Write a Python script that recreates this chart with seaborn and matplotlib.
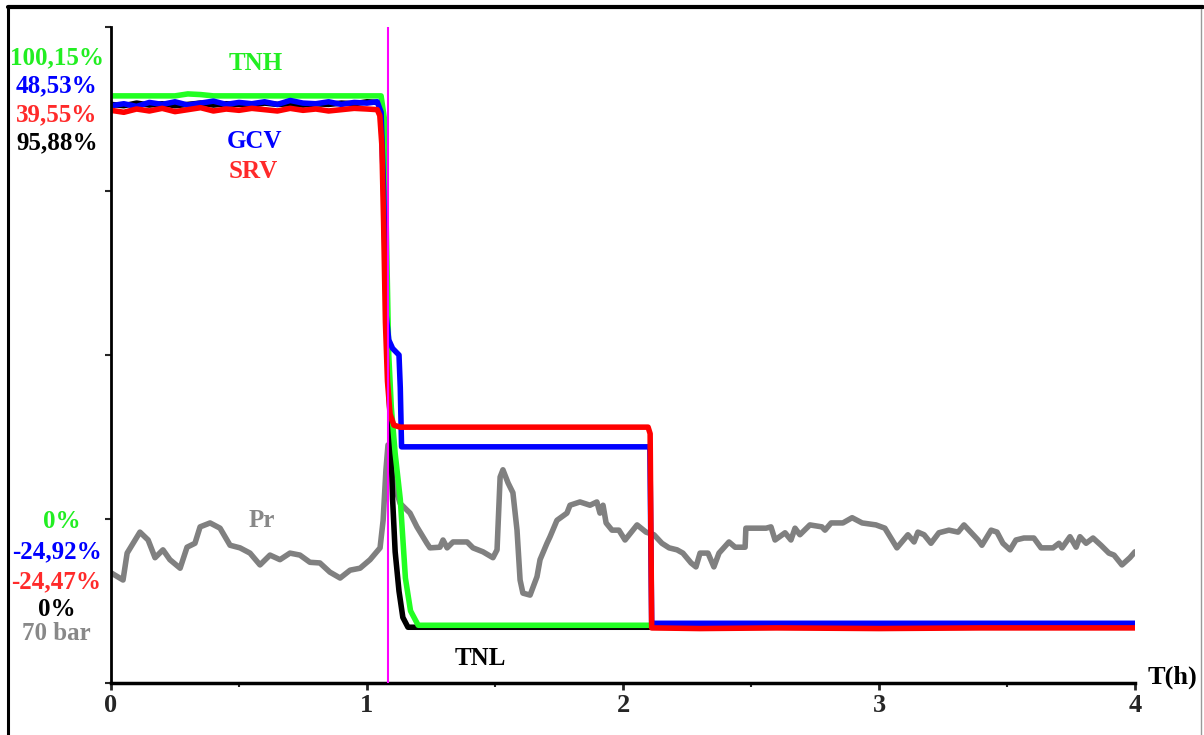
import numpy as np
import pandas as pd
import matplotlib
matplotlib.use("Agg")
import matplotlib.pyplot as plt
import seaborn as sns
from matplotlib.lines import Line2D
from matplotlib.ticker import MultipleLocator

# time in hours, signals in % of recorder scale (0 = bottom, 100 = top)
t_top = [0.00, 0.05, 0.10, 0.15, 0.20, 0.25, 0.30, 0.35, 0.40, 0.45, 0.50,
         0.55, 0.60, 0.65, 0.70, 0.75, 0.80, 0.85, 0.90, 0.95, 1.00]

tnh_t = [0.0, 0.25, 0.30, 0.35, 0.40, 0.8, 1.0, 1.055, 1.068, 1.075, 1.085,
         1.095, 1.11, 1.13, 1.15, 1.17, 1.20, 2.10, 4.0]
tnh_v = [89.5, 89.5, 89.8, 89.7, 89.5, 89.5, 89.5, 89.5, 86.0, 70.0, 50.0,
         42.0, 35.0, 28.0, 16.0, 11.0, 8.8, 8.8, 8.8]

gcv_t = t_top + [1.04, 1.055, 1.065, 1.075, 1.085, 1.10, 1.125, 1.13, 1.135,
                 2.105, 2.112, 4.0]
gcv_v = [88.0, 88.3, 87.9, 88.5, 88.2, 88.6, 88.1, 88.4, 88.7, 88.2, 88.5,
         88.3, 88.6, 88.2, 88.8, 88.4, 88.3, 88.6, 88.2, 88.5, 88.4] + \
        [88.6, 87.0, 75.0, 56.0, 52.3, 51.0, 50.0, 45.0, 36.0, 36.0, 9.1, 9.1]

srv_t = t_top + [1.04, 1.05, 1.058, 1.065, 1.072, 1.08, 1.09, 1.105, 1.13,
                 2.098, 2.106, 2.112, 2.3, 2.6, 3.0, 3.4, 4.0]
srv_v = [87.3, 87.0, 87.5, 87.2, 87.6, 87.1, 87.4, 87.7, 87.2, 87.5, 87.3,
         87.6, 87.4, 87.2, 87.6, 87.3, 87.5, 87.2, 87.4, 87.6, 87.5] + \
        [87.4, 86.5, 82.0, 70.0, 55.0, 46.0, 41.0, 39.3, 39.0, 39.0, 38.0,
         8.4, 8.3, 8.4, 8.3, 8.4, 8.4]

tnl_t = t_top + [1.04, 1.055, 1.065, 1.075, 1.085, 1.09, 1.10, 1.11, 1.125,
                 1.14, 1.16, 4.0]
tnl_v = [88.2, 88.0, 88.4, 88.1, 88.3, 88.0, 88.2, 88.4, 88.1, 88.3, 88.2,
         88.1, 88.4, 88.2, 88.3, 88.1, 88.3, 88.2, 88.4, 88.3, 88.6] + \
        [88.5, 88.0, 80.0, 60.0, 45.0, 41.0, 28.0, 20.0, 14.0, 10.0, 8.5, 8.5]

pr_t = [0.0, 0.047, 0.063, 0.113, 0.145, 0.172, 0.203, 0.230, 0.270, 0.297,
        0.328, 0.348, 0.387, 0.426, 0.465, 0.504, 0.543, 0.582, 0.621, 0.660,
        0.699, 0.738, 0.777, 0.816, 0.855, 0.895, 0.934, 0.973, 1.012, 1.051,
        1.063, 1.074, 1.082, 1.102, 1.129, 1.168, 1.195, 1.234, 1.246, 1.285,
        1.297, 1.313, 1.336, 1.391, 1.414, 1.453, 1.492, 1.508, 1.520, 1.531,
        1.551, 1.570, 1.586, 1.598, 1.609, 1.637, 1.664, 1.676, 1.703, 1.715,
        1.742, 1.781, 1.793, 1.832, 1.871, 1.898, 1.910, 1.922, 1.934, 1.957,
        1.984, 2.008, 2.055, 2.090, 2.121, 2.152, 2.180, 2.211, 2.234, 2.266,
        2.285, 2.301, 2.332, 2.355, 2.375, 2.414, 2.438, 2.477, 2.480, 2.559,
        2.578, 2.594, 2.633, 2.656, 2.672, 2.691, 2.730, 2.777, 2.789, 2.813,
        2.859, 2.895, 2.934, 2.988, 3.023, 3.070, 3.113, 3.137, 3.152, 3.176,
        3.203, 3.234, 3.273, 3.309, 3.332, 3.387, 3.402, 3.438, 3.461, 3.484,
        3.512, 3.535, 3.566, 3.605, 3.633, 3.680, 3.703, 3.715, 3.746, 3.770,
        3.785, 3.809, 3.836, 3.867, 3.898, 3.918, 3.949, 3.980, 4.000]
pr_v = [16.8, 15.7, 19.8, 23.0, 21.8, 19.1, 20.3, 18.8, 17.5, 20.7,
        21.3, 23.8, 24.4, 23.6, 21.0, 20.6, 19.8, 18.0, 19.5, 18.8,
        19.8, 19.5, 18.4, 18.3, 16.9, 16.0, 17.2, 17.5, 18.8, 20.6,
        24.8, 32.5, 36.3, 30.9, 27.4, 25.9, 23.8, 21.3, 20.6, 20.7,
        21.8, 20.6, 21.5, 21.5, 20.6, 20.0, 19.1, 20.3, 31.4, 32.5,
        30.5, 29.0, 23.3, 15.7, 13.7, 13.4, 16.2, 18.8, 21.3, 22.3,
        24.8, 25.9, 27.1, 27.6, 27.1, 27.6, 25.9, 27.1, 24.4, 23.3,
        23.3, 21.8, 24.1, 23.0, 22.6, 21.3, 20.6, 20.3, 19.8, 18.3,
        17.7, 19.8, 19.8, 17.7, 19.8, 21.5, 20.7, 20.7, 23.6, 23.6,
        23.8, 21.8, 22.9, 21.8, 23.6, 22.6, 24.1, 23.8, 23.3, 24.4,
        24.4, 25.2, 24.4, 24.1, 23.6, 20.6, 22.6, 21.5, 23.0, 22.6,
        21.3, 22.9, 23.3, 23.0, 24.1, 21.8, 21.0, 23.3, 23.0, 21.3,
        20.3, 21.8, 22.1, 22.1, 20.6, 20.6, 21.3, 20.6, 22.3, 20.7,
        22.3, 21.3, 22.1, 21.0, 19.8, 19.5, 18.0, 19.1, 20.0]

trip_t = 1.082

left_top = [("100,15%", "#22ee22"), ("48,53%", "#0000ff"),
            ("39,55%", "#ff2a2a"), ("95,88%", "#000000")]
left_bot = [("0%", "#22ee22"), ("-24,92%", "#0000ff"), ("-24,47%", "#ff2a2a"),
            ("0%", "#000000"), ("70 bar", "#888888")]

sns.set_style("white")
plt.rcParams['font.family'] = ['Liberation Serif', 'DejaVu Serif']
plt.rcParams['font.weight'] = 'bold'

fig = plt.figure(figsize=(12.04, 7.35), dpi=100)
ax = fig.add_axes([111/1204, 52/735, 1024/1204, 656/735])

lw = 4
sns.lineplot(x=pr_t, y=pr_v, color="#808080", lw=lw, estimator=None, ax=ax)
sns.lineplot(x=tnl_t, y=tnl_v, color="black", lw=lw, estimator=None, ax=ax)
sns.lineplot(x=tnh_t, y=tnh_v, color="#22ff22", lw=lw, estimator=None, ax=ax)
sns.lineplot(x=gcv_t, y=gcv_v, color="#0000ff", lw=lw, estimator=None, ax=ax)
sns.lineplot(x=srv_t, y=srv_v, color="#ff0000", lw=lw, estimator=None, ax=ax)
ax.axvline(trip_t, color="#ff00ff", lw=1.5, zorder=10)

ax.set_xlim(0, 4)
ax.set_ylim(0, 100)
ax.xaxis.set_major_locator(MultipleLocator(1))
ax.xaxis.set_minor_locator(MultipleLocator(0.5))
ax.set_yticks([0, 25, 50, 75, 100])
ax.set_yticklabels([])
ax.tick_params(axis='x', which='major', direction='out', length=5, width=2,
               labelsize=19, pad=3, bottom=True)
ax.tick_params(axis='x', which='minor', direction='out', length=3, width=1.5,
               bottom=True)
ax.tick_params(axis='y', direction='out', length=4, width=1.5, left=True)
for lab in ax.get_xticklabels():
    lab.set_fontweight('bold')
ax.set_xlabel("")
ax.set_ylabel("")
sns.despine(ax=ax)
ax.spines['left'].set_linewidth(2)
ax.spines['bottom'].set_linewidth(2.5)
ax.spines['left'].set_color('black')
ax.spines['bottom'].set_color('black')

# curve names
fs = 18
ax.text(0.566, 94.5, "TNH", color="#22ee22", fontsize=fs, ha='center', va='center')
ax.text(0.5625, 82.6, "GCV", color="#0000ff", fontsize=fs, ha='center', va='center')
ax.text(0.557, 77.9, "SRV", color="#ff2a2a", fontsize=fs, ha='center', va='center')
ax.text(0.59, 24.8, "Pr", color="#888888", fontsize=fs, ha='center', va='center')
ax.text(1.441, 3.8, "TNL", color="black", fontsize=fs, ha='center', va='center')
ax.text(4.145, 0.9, "T(h)", color="black", fontsize=19, ha='center', va='center',
        clip_on=False)

# scale ends on the left
for (txt, col), py in zip(left_top, [58, 86, 115, 143]):
    fig.text(57/1204, 1 - py/735, txt, color=col, fontsize=fs, ha='center', va='center')
for (txt, col), py, px in zip(left_bot, [522, 552, 582, 609, 633], [62, 57, 56, 57, 56]):
    fig.text(px/1204, 1 - py/735, txt, color=col, fontsize=fs, ha='center', va='center')

# recorder frame
fig.add_artist(Line2D([8/1204, 1203/1204], [1 - 7/735, 1 - 7/735], color='black', lw=3,
                      transform=fig.transFigure))
fig.add_artist(Line2D([8/1204, 8/1204], [0, 1 - 7/735], color='black', lw=2.2,
                      transform=fig.transFigure))
fig.add_artist(Line2D([1201/1204, 1201/1204], [0, 1 - 9/735], color='#999999', lw=1,
                      transform=fig.transFigure))

fig.savefig("out.png", dpi=100)
